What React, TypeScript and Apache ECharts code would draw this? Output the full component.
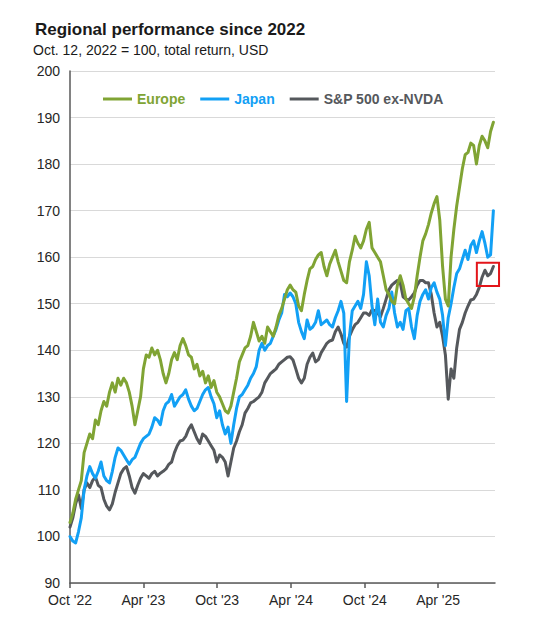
import React, { useEffect, useRef } from "react";
import * as echarts from "echarts";

// Weekly observations, day offset from the axis start (Oct 2022)
const stepDays = 7;

const europe = [
  103, 105, 108, 110, 112, 118, 120, 122, 121, 125,
  124, 127, 129, 128, 131, 133, 131, 134, 132.5, 134,
  133, 131, 128, 124, 127, 130, 136, 139, 138.5, 140.5,
  139, 140, 138, 135, 133, 135, 138, 139.5, 138, 141,
  142.5, 141, 139, 138.5, 136, 137, 134.5, 135.5, 133, 134.5,
  132, 133.5, 131, 130, 128.5, 127, 126.5, 128, 131, 134,
  137.5, 139, 140.5, 141, 143, 146, 144, 142, 143, 141.5,
  145, 144, 143, 145, 147.5, 149, 151, 153, 154, 153,
  152.5, 149.5, 148.5, 152, 155, 157.5, 158, 159.5, 160.5, 161,
  158, 156, 158.5, 160, 161.5, 159, 157, 155, 154.5, 159,
  161.5, 164.5, 163, 162, 163.5, 166, 167.5, 162, 161, 160,
  159, 156, 153, 152, 150.5, 150, 154, 156, 154, 151,
  150, 149, 151.5, 156, 160, 163.5, 165, 167, 169.5, 171.5,
  173, 168, 158, 151, 149.5, 160, 166, 171, 175, 179,
  182, 182.5, 184.5, 184, 180, 184, 186, 185, 183.5, 187, 189,
];

const japan = [
  100, 99, 98.6, 101, 104, 110, 113, 115, 113.5, 112.5,
  114, 116, 113, 112, 111.5, 114, 117, 119, 118.5, 117.5,
  116.5, 115.5, 116.5, 117, 118.5, 120, 121, 121.5, 122, 123.5,
  125.5, 125, 124, 127, 128.5, 129, 130.5, 128, 129, 130,
  130.5, 131.5, 129.5, 128, 127, 127.5, 129, 130.5, 131.5, 132,
  130, 128.5, 125.5, 127, 124, 122, 123.5, 120, 124, 127.5,
  130, 130.5, 131.5, 132.5, 134, 135, 136.5, 140, 141.5, 140,
  141, 141.5, 143, 144.5, 146.5, 148, 152, 151.5, 152.3, 151.5,
  150, 146, 144, 142.5, 146.5, 144.5, 145, 146, 148.5, 145.5,
  146, 146.5, 145.5, 145, 147, 148.5, 150.5, 148, 129, 143,
  148.5, 149.5, 150.5, 149, 152, 159, 156, 149.5, 145.5, 151,
  146, 145, 147.5, 149, 152.5, 148, 145, 146, 144.5, 148.5,
  149, 145, 142.5, 147.5, 150.5, 152, 153, 151, 153.5, 154.5,
  152.5, 151, 147.5, 141, 147, 150, 153.5, 156.5, 157.5, 159.5,
  161.5, 159.5, 162.5, 163.5, 161, 163.5, 165.5, 163, 160, 160.5, 170,
];

const spxExNvda = [
  102, 104, 107, 109, 106, 110, 111.5, 110.5, 112, 112.8,
  111, 110.5, 108, 106.5, 105.7, 107, 109.5, 111.5, 113.5, 114.5,
  115, 113, 110.5, 109.3, 111, 112.5, 113.5, 113, 112.5, 113.5,
  114, 113, 113.6, 114, 114.5, 115.5, 116, 118, 119.5, 120.5,
  120.7, 121.5, 123, 124, 122.5, 121, 120, 122, 121.5, 120.5,
  119.5, 118.5, 116, 117.5, 117, 116, 113, 116, 119, 120.5,
  122.5, 124, 126.5, 127.5, 128.7, 129, 129.5, 130, 131, 133,
  134, 135, 135.5, 136, 137, 137.5, 138, 138.5, 138.6, 137.9,
  136, 134, 133, 134, 137, 138.5, 139.4, 137.5, 138, 139.5,
  140.5, 141.5, 142, 142.2, 144, 145, 143.5, 141.5, 140.7, 143,
  144.4, 145.5, 146, 147, 148, 148, 147.5, 148.7, 148.5, 148,
  147.2, 149, 151, 153, 154, 154.5, 155, 154.5, 151.5, 151,
  150.8, 151.5, 152.3, 154, 155, 155, 154.5, 154.5, 152, 148,
  145, 146, 143, 139, 129.5, 136, 134, 140.5, 144.5, 146,
  148, 149.5, 150.8, 151, 152, 153.5, 155.7, 157.2, 156, 156.5, 158,
];

const seriesNames = ["Europe", "Japan", "S&P 500 ex-NVDA"];
const seriesColors = ["#80A434", "#12A0F5", "#55585C"];

const xTickDays = [0, 182, 365, 548, 731, 913];
const xTickLabels = ["Oct '22", "Apr '23", "Oct '23", "Apr '24", "Oct '24", "Apr '25"];
const xMaxDay = 1054;

// highlight box corners (data units: day, value)
const boxFrom = [1009, 158.8];
const boxTo = [1064, 153.8];

const FONT = "'Liberation Sans', Arial, sans-serif";

export default function App() {
  const ref = useRef<HTMLDivElement>(null);
  useEffect(() => {
    document.body.style.margin = "0";
    const chart = echarts.init(ref.current!, null, { renderer: "svg" });
    const all = [europe, japan, spxExNvda];
    chart.setOption({
      animation: false,
      backgroundColor: "#ffffff",
      textStyle: { fontFamily: FONT },
      title: [
        {
          text: "Regional performance since 2022",
          left: 30,
          top: 16,
          textStyle: { fontSize: 17, fontWeight: "bold", color: "#1a1a1a", fontFamily: FONT },
        },
        {
          text: "Oct. 12, 2022 = 100, total return, USD",
          left: 28,
          top: 38,
          textStyle: { fontSize: 14, fontWeight: "normal", color: "#1a1a1a", fontFamily: FONT },
        },
      ],
      legend: {
        left: 98,
        top: 87,
        icon: "rect",
        itemWidth: 29,
        itemHeight: 3,
        itemGap: 15,
        data: seriesNames.map((n, i) => ({
          name: n,
          textStyle: { color: seriesColors[i], fontWeight: "bold", fontSize: 14, fontFamily: FONT },
        })),
      },
      grid: { left: 70, right: 40, top: 71, bottom: 52 },
      xAxis: {
        type: "value",
        min: 0,
        max: xMaxDay,
        splitLine: { show: false },
        axisLine: { lineStyle: { color: "#595959", width: 1.5 } },
        axisTick: {
          show: true,
          length: 5,
          customValues: xTickDays,
          lineStyle: { color: "#595959", width: 1.5 },
        },
        axisLabel: {
          customValues: xTickDays,
          formatter: (v: number) => {
            const k = xTickDays.indexOf(v);
            return k >= 0 ? xTickLabels[k] : "";
          },
          color: "#262626",
          fontSize: 14,
          margin: 10,
          fontFamily: FONT,
        },
      },
      yAxis: {
        type: "value",
        min: 90,
        max: 200,
        interval: 10,
        axisLine: { show: true, lineStyle: { color: "#595959", width: 1.5 } },
        axisTick: { show: false },
        splitLine: { lineStyle: { color: "#d9d9d9", width: 1 } },
        axisLabel: { color: "#262626", fontSize: 14, margin: 10, fontFamily: FONT },
      },
      series: all.map((arr, i) => ({
        name: seriesNames[i],
        type: "line",
        showSymbol: false,
        color: seriesColors[i],
        lineStyle: { width: 3, color: seriesColors[i], cap: "round", join: "round" },
        data: arr.map((v, k) => [k * stepDays, v]),
        z: 3 - i,
      })),
    });
    const p1 = chart.convertToPixel({ gridIndex: 0 }, boxFrom) as number[];
    const p2 = chart.convertToPixel({ gridIndex: 0 }, boxTo) as number[];
    chart.setOption({
      graphic: [
        {
          type: "rect",
          shape: { x: p1[0], y: p1[1], width: p2[0] - p1[0], height: p2[1] - p1[1] },
          style: { fill: "none", stroke: "#E3151A", lineWidth: 2 },
          z: 100,
        },
      ],
    });
    return () => chart.dispose();
  }, []);
  return <div ref={ref} style={{ width: 535, height: 635, position: "absolute", left: 0, top: 0 }} />;
}
